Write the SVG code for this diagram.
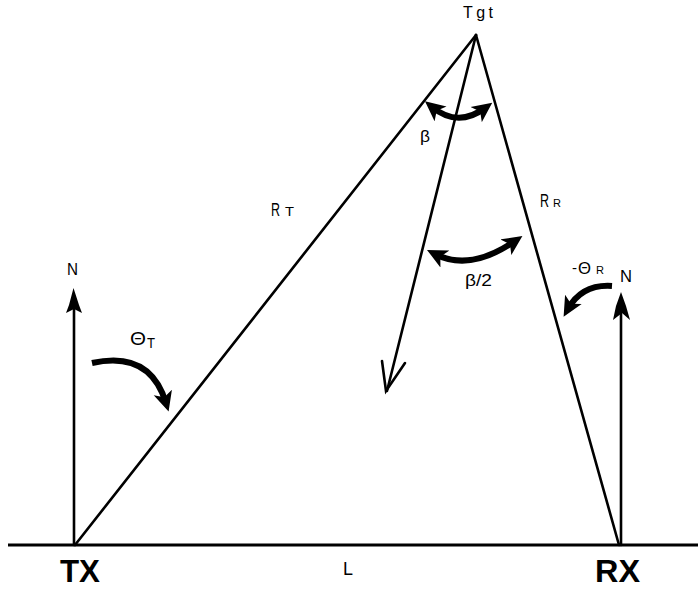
<svg xmlns="http://www.w3.org/2000/svg" width="698" height="592" viewBox="0 0 698 592">
  <style>
    .ln { stroke: #000; stroke-width: 2.6; fill: none; stroke-linecap: round; }
    .curve { stroke: #000; stroke-width: 6; fill: none; }
    .t { font-family: "Liberation Sans", Arial, sans-serif; fill: #000; }
    .big { font-weight: bold; font-size: 32px; }
  </style>
  <defs>
    <marker id="head" viewBox="0 0 20 20" refX="11" refY="10" markerWidth="20" markerHeight="20" markerUnits="userSpaceOnUse" orient="auto-start-reverse">
      <path d="M0,0.5 L20,10 L0,19.5 L5,10 z" fill="#000"/>
    </marker>
  </defs>
  <rect width="698" height="592" fill="#fff"/>

  <g id="ground">
    <line x1="8" y1="545" x2="698" y2="545" stroke="#000" stroke-width="3.2"/>
  </g>

  <g id="connectors">
    <line class="ln" x1="75" y1="545" x2="476" y2="35"/>
    <line class="ln" x1="619" y1="545" x2="476" y2="35"/>
    <line class="ln" x1="476" y1="35" x2="387" y2="391"/>
    <polyline class="ln" points="382,361 386,391 405,363" stroke-width="2.4"/>
  </g>

  <g id="tx">
    <line class="ln" x1="74" y1="545" x2="74" y2="300"/>
    <polygon points="73.5,288 79,305 82,313 74,309 66,313 69,305" fill="#000"/>
    <text class="t" x="67" y="275" font-size="16" textLength="11" lengthAdjust="spacingAndGlyphs">N</text>
    <text class="t big" x="60" y="582" textLength="40" lengthAdjust="spacingAndGlyphs">TX</text>
  </g>

  <g id="rx">
    <line class="ln" x1="621" y1="545" x2="621" y2="305"/>
    <polygon points="621,292 626,306 630,320 622,313 613,320 616,306" fill="#000"/>
    <text class="t" x="620" y="282" font-size="16" textLength="12" lengthAdjust="spacingAndGlyphs">N</text>
    <text class="t big" x="595" y="582" textLength="45" lengthAdjust="spacingAndGlyphs">RX</text>
  </g>

  <g id="tgt">
    <text class="t" x="463" y="18" font-size="16" textLength="30" lengthAdjust="spacing">Tgt</text>
  </g>

  <g id="angle-theta-t">
    <path class="curve" d="M92,363 Q150,350 166,403" marker-end="url(#head)"/>
    <text class="t" x="130" y="345" font-size="18" textLength="16" lengthAdjust="spacingAndGlyphs">Θ</text>
    <text class="t" x="147" y="348" font-size="14" textLength="8" lengthAdjust="spacingAndGlyphs">T</text>
  </g>

  <g id="angle-beta">
    <path class="curve" d="M432,107 Q458,128 485,108" marker-start="url(#head)" marker-end="url(#head)"/>
    <text class="t" x="420" y="142" font-size="17" textLength="10" lengthAdjust="spacingAndGlyphs">β</text>
  </g>

  <g id="angle-beta-half">
    <path class="curve" d="M435,254 Q470,272 515,241" marker-start="url(#head)" marker-end="url(#head)"/>
    <text class="t" x="465" y="286" font-size="17" textLength="27" lengthAdjust="spacingAndGlyphs">β/2</text>
  </g>

  <g id="angle-theta-r">
    <path class="curve" d="M612,286 Q582,284 568,309" marker-end="url(#head)"/>
    <text class="t" x="572" y="273" font-size="15">-</text>
    <text class="t" x="578" y="274" font-size="16" textLength="13" lengthAdjust="spacingAndGlyphs">Θ</text>
    <text class="t" x="596" y="274" font-size="10" textLength="8" lengthAdjust="spacingAndGlyphs">R</text>
  </g>

  <g id="range-labels">
    <text class="t" x="271" y="216" font-size="18" textLength="9" lengthAdjust="spacingAndGlyphs">R</text>
    <text class="t" x="285" y="216" font-size="12" textLength="9" lengthAdjust="spacingAndGlyphs">T</text>
    <text class="t" x="540" y="207" font-size="18" textLength="9" lengthAdjust="spacingAndGlyphs">R</text>
    <text class="t" x="553" y="207" font-size="10" textLength="8" lengthAdjust="spacingAndGlyphs">R</text>
    <text class="t" x="343" y="575" font-size="18" textLength="10" lengthAdjust="spacingAndGlyphs">L</text>
  </g>
</svg>
